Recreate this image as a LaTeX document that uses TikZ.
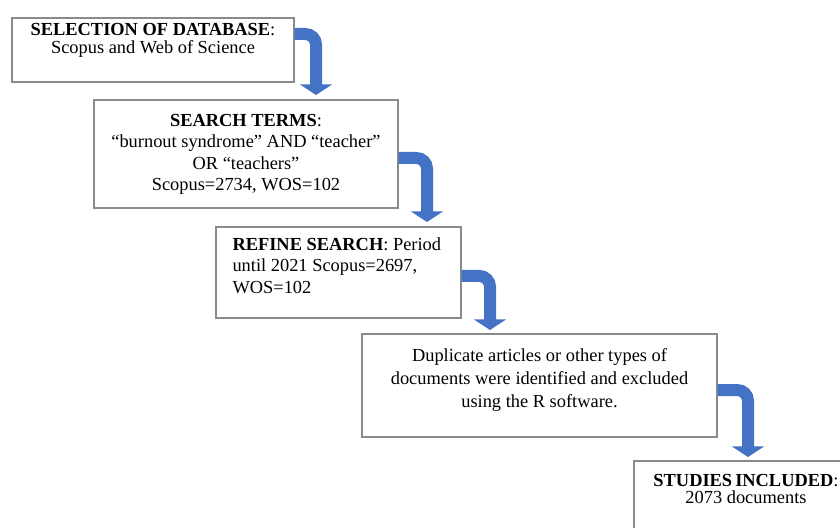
\documentclass[tikz,border=0pt]{standalone}
\usepackage{fontspec}
\setmainfont{Liberation Serif}
\usetikzlibrary{positioning,arrows.meta}
\definecolor{flowblue}{HTML}{4472C4}
\definecolor{boxgray}{HTML}{8A8A8A}

\begin{document}
\begin{tikzpicture}[x=0.75pt, y=-0.75pt,
    box/.style={draw=boxgray, line width=1.1pt, fill=white, inner sep=0pt},
    txt/.style={align=center, font=\fontsize{13.8}{16}\selectfont, inner sep=0pt},
    flow/.style={draw=flowblue, line width=9pt, rounded corners=8pt,
        -{Triangle[width=24pt, length=8pt]}}]
    \useasboundingbox (0,0) rectangle (840,528);
    \clip (0,0) rectangle (840,528);

    % boxes
    \node[box, minimum width=211.5pt, minimum height=48pt] (b1) at (153,50) {};
    \node[box, minimum width=228pt, minimum height=81pt] (b2) at (246,154) {};
    \node[box, minimum width=183.75pt, minimum height=68.25pt] (b3) at (338.5,272.5) {};
    \node[box, minimum width=266.25pt, minimum height=77.25pt] (b4) at (539.5,385.5) {};
    \node[box, minimum width=168pt, minimum height=75pt] (b5) at (746,511) {};

    % texts
    \node[txt, font=\fontsize{13.8}{13.5}\selectfont, below=4pt of b1.north] (t1)
        {\textbf{SELECTION OF DATABASE}:\\Scopus and Web of Science};
    \node[txt, below=11pt of b2.north] (t2)
        {\textbf{SEARCH TERMS}:\\``burnout syndrome'' AND ``teacher''\\OR ``teachers''\\Scopus=2734, WOS=102};
    \node[txt, align=left, below right=8.5pt and 12.75pt of b3.north west] (t3)
        {\textbf{REFINE SEARCH}: Period\\until 2021 Scopus=2697,\\WOS=102};
    \node[txt, font=\fontsize{13.8}{17.5}\selectfont, below=11pt of b4.north] (t4)
        {Duplicate articles or other types of\\documents were identified and excluded\\using the R software.};
    \node[txt, font=\fontsize{13.8}{13}\selectfont, below=10pt of b5.north] (t5)
        {\textbf{STUDIES\,INCLUDED}:\\2073 documents};

    % bent arrows
    \coordinate (e1) at (316,95);
    \coordinate (e2) at (427,222);
    \coordinate (e3) at (490,330);
    \coordinate (e4) at (748,457);
    \draw[flow] ([yshift=12pt]b1.east) -| (e1);
    \draw[flow] ([yshift=-3pt]b2.east) -| (e2);
    \draw[flow] ([yshift=-2.6pt]b3.east) -| (e3);
    \draw[flow] ([yshift=-3.4pt]b4.east) -| (e4);
\end{tikzpicture}
\end{document}
